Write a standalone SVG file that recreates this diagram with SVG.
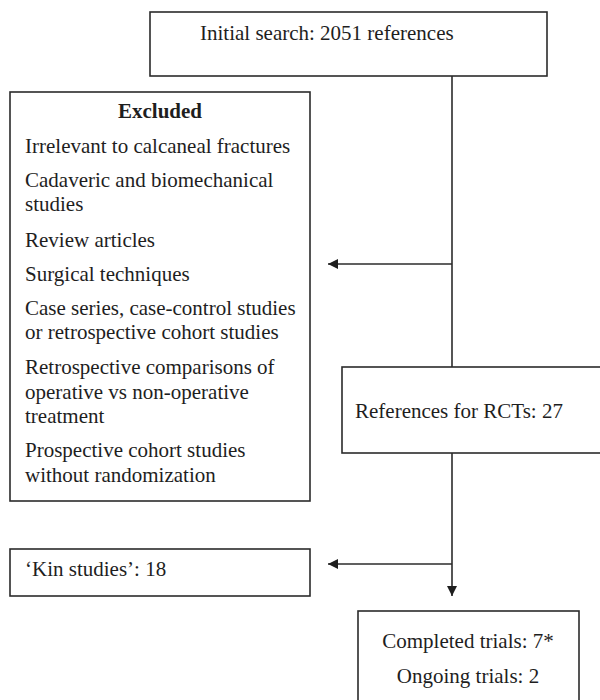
<svg xmlns="http://www.w3.org/2000/svg" width="600" height="700" viewBox="0 0 600 700">
<defs>
<style>
.box{fill:#fff;stroke:#2b2b2b;stroke-width:1.6}
.t{font-family:"Liberation Serif","Times New Roman",serif;font-size:21px;fill:#1e1e1e}
.b{font-weight:bold}
.c{fill:none;stroke:#2b2b2b;stroke-width:1.6}
</style>
<marker id="ah" viewBox="0 0 10 10" refX="10" refY="5" markerWidth="10" markerHeight="10" markerUnits="userSpaceOnUse" orient="auto">
<path d="M0,0 L10,5 L0,10 Z" fill="#1e1e1e"/>
</marker>
</defs>
<rect width="600" height="700" fill="#fff"/>
<g id="connectors">
<line class="c" x1="452" y1="76" x2="452" y2="367"/>
<line class="c" x1="452" y1="264" x2="328" y2="264" marker-end="url(#ah)"/>
<line class="c" x1="452" y1="453" x2="452" y2="596" marker-end="url(#ah)"/>
<line class="c" x1="452" y1="564" x2="328" y2="564" marker-end="url(#ah)"/>
</g>
<g id="initial">
<rect class="box" x="150" y="12" width="397" height="64"/>
<text class="t" x="200" y="40">Initial search: 2051 references</text>
</g>
<g id="excluded">
<rect class="box" x="10" y="92" width="300" height="409"/>
<text class="t b" x="160" y="118" text-anchor="middle">Excluded</text>
<text class="t" x="25" y="153">Irrelevant to calcaneal fractures</text>
<text class="t" x="25" y="187">Cadaveric and biomechanical</text>
<text class="t" x="25" y="211">studies</text>
<text class="t" x="25" y="247">Review articles</text>
<text class="t" x="25" y="281">Surgical techniques</text>
<text class="t" x="25" y="315">Case series, case-control studies</text>
<text class="t" x="25" y="339">or retrospective cohort studies</text>
<text class="t" x="25" y="374">Retrospective comparisons of</text>
<text class="t" x="25" y="399">operative vs non-operative</text>
<text class="t" x="25" y="423">treatment</text>
<text class="t" x="25" y="457">Prospective cohort studies</text>
<text class="t" x="25" y="482">without randomization</text>
</g>
<g id="rcts">
<rect class="box" x="342" y="367" width="270" height="86"/>
<text class="t" x="355" y="418">References for RCTs: 27</text>
</g>
<g id="kin">
<rect class="box" x="10" y="549" width="300" height="47"/>
<text class="t" x="25" y="576">‘Kin studies’: 18</text>
</g>
<g id="trials">
<rect class="box" x="358" y="611" width="221" height="100"/>
<text class="t" x="468" y="648" text-anchor="middle">Completed trials: 7*</text>
<text class="t" x="468" y="683" text-anchor="middle">Ongoing trials: 2</text>
</g>
</svg>
